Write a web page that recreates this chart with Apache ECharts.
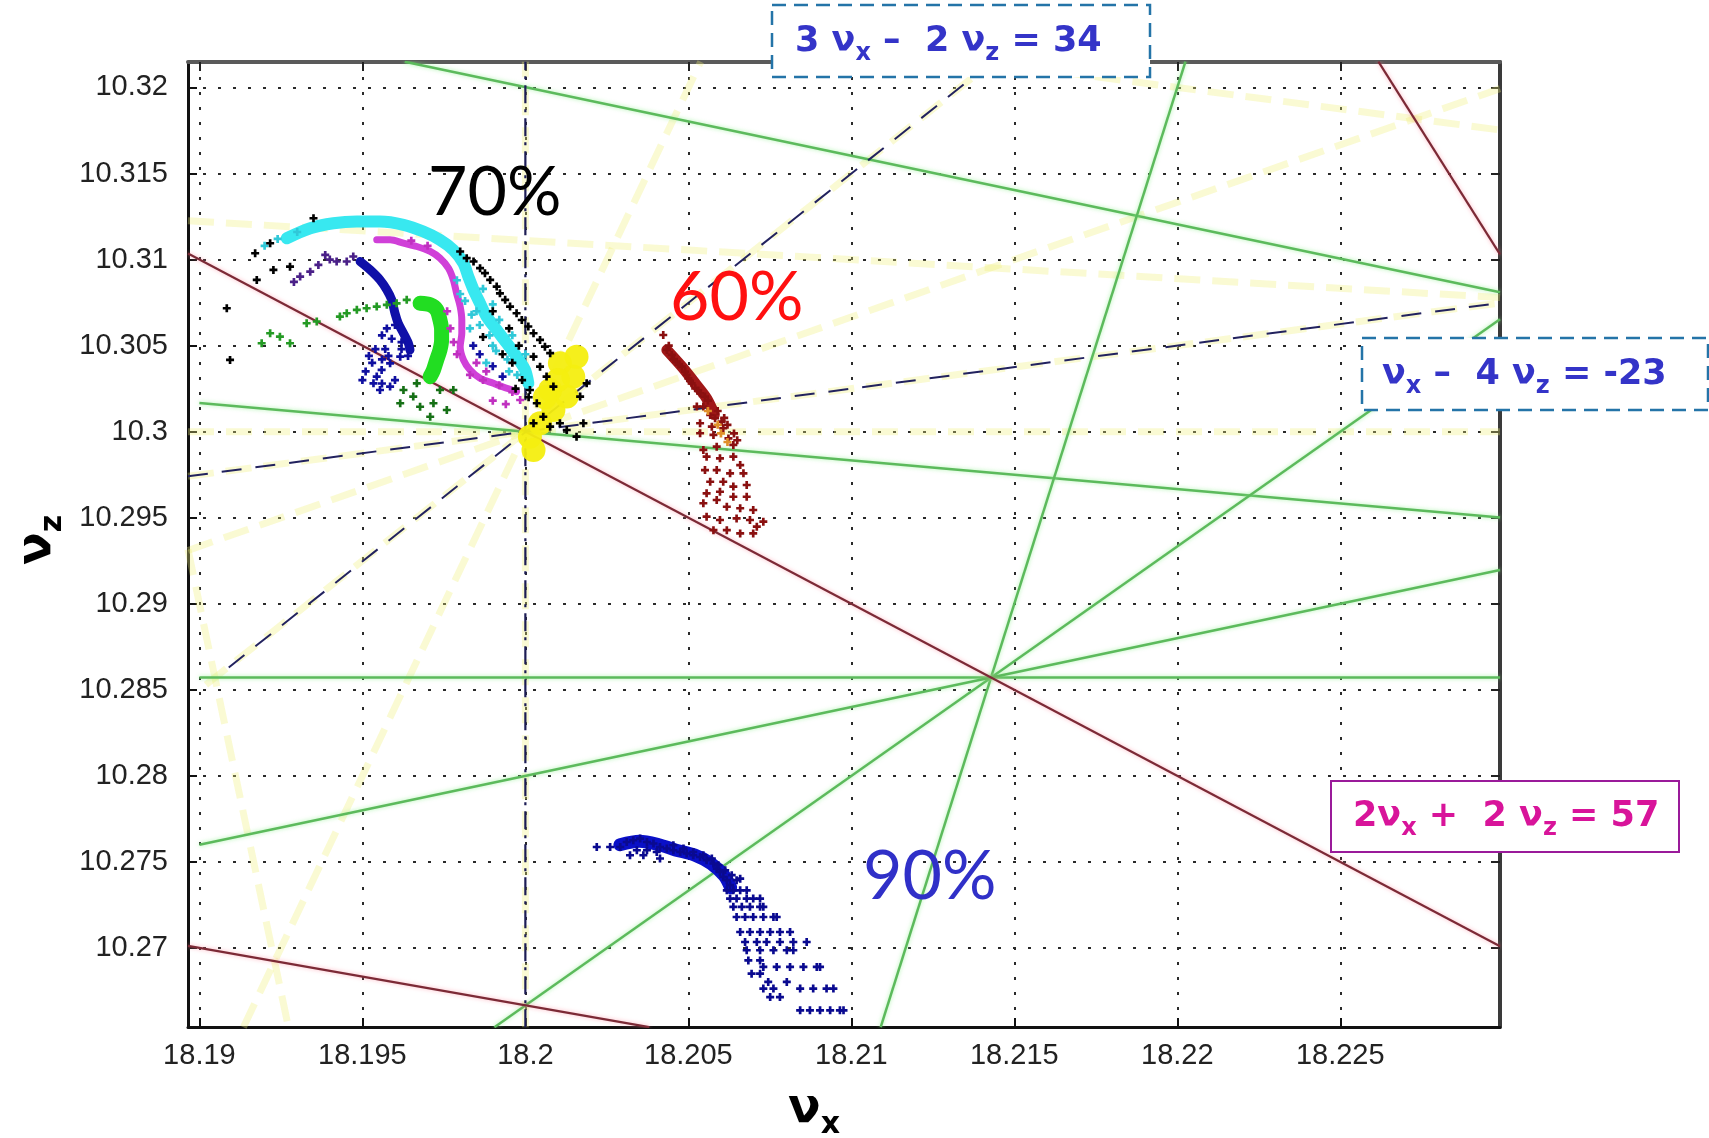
<!DOCTYPE html>
<html><head><meta charset="utf-8">
<script src="https://cdn.jsdelivr.net/npm/echarts@6/dist/echarts.min.js"></script>
<style>html,body{margin:0;padding:0;background:#fff}#c{width:1709px;height:1138px}</style>
</head><body><div id="c"></div>
<script>
// ---------- axes ----------
const xTicks = [18.19,18.195,18.2,18.205,18.21,18.215,18.22,18.225];
const zTicks = [10.27,10.275,10.28,10.285,10.29,10.295,10.3,10.305,10.31,10.315,10.32];
const xRange = [18.18965, 18.2299];
const zRange = [10.26541, 10.32148];

// ---------- resonance lines (end points in tune space) ----------
const greenLines = [
  [[18.1963,10.3215],[18.2299,10.3081]],   // 2vx+5vz=88
  [[18.19,10.30167],[18.2299,10.29502]],   // vx+6vz=80
  [[18.19,10.28571],[18.2299,10.28571]],   // 7vz=72
  [[18.22025,10.3215],[18.2109,10.2654]],  // 6vx-vz=99
  [[18.19905,10.2654],[18.2299,10.30653]], // 4vx-3vz=42
  [[18.19,10.276],[18.2299,10.29196]]      // 2vx-5vz=-15
];
const brownLines = [
  [[18.18965,10.31035],[18.2299,10.2701]], // 2vx+2vz=57
  [[18.18965,10.27012],[18.2038,10.2654]], // vx+3vz=49
  [[18.22617,10.3215],[18.2299,10.3103]]   // 3vx+vz=65
];
const navyLines = [
  [[18.1909,10.2863],[18.21433,10.3215]],  // 3vx-2vz=34
  [[18.18965,10.29741],[18.2299,10.30748]] // vx-4vz=-23
];
const navyVertical = [[18.2,10.2654],[18.2,10.3215]]; // 5vx=91
const yellowLines = [
  [[18.18965,10.3],[18.2299,10.3]],
  [[18.2,10.2654],[18.2,10.3215]],
  [[18.18965,10.29741],[18.2299,10.30748]],
  [[18.1902,10.2853],[18.21433,10.3215]],
  [[18.18965,10.2931],[18.2299,10.31993]],
  [[18.19135,10.2654],[18.20538,10.3215]],
  [[18.18965,10.29315],[18.19273,10.2654]],
  [[18.18965,10.31226],[18.2299,10.30779]],
  [[18.214,10.3215],[18.2299,10.31753]]
];

// ---------- tracked particles ----------
const p90Head = [[18.2029,10.2760],[18.2035,10.2762],[18.2041,10.2760],[18.2046,10.2757],[18.2052,10.2754],[18.2057,10.2749],[18.2061,10.2742],[18.2063,10.2735]];
const p90 = [[18.20219,10.27587],[18.20260,10.27587],[18.20291,10.27587],[18.20311,10.27616],[18.20331,10.27626],[18.20352,10.27636],[18.20373,10.27616],[18.20393,10.27607],[18.20413,10.27587],[18.20434,10.27578],[18.20321,10.27539],[18.20342,10.27568],[18.20373,10.27568],[18.20403,10.27558],[18.20413,10.27520],[18.20362,10.27539],
 [18.20454,10.27568],[18.20475,10.27558],[18.20495,10.27549],[18.20515,10.27539],[18.20536,10.27529],[18.20556,10.27510],[18.20577,10.27491],[18.20587,10.27461],[18.20597,10.27442],[18.20607,10.27413],[18.20618,10.27394],[18.20628,10.27365],[18.20454,10.27597],[18.20485,10.27578],[18.20515,10.27558],[18.20546,10.27539],[18.20572,10.27520],[18.20592,10.27481],[18.20613,10.27452],[18.20633,10.27423],[18.20648,10.27394],[18.20659,10.27403],
 [18.20618,10.27335],[18.20638,10.27335],[18.20659,10.27335],[18.20679,10.27335],
 [18.20628,10.27287],[18.20648,10.27287],[18.20679,10.27287],[18.20699,10.27287],[18.20720,10.27287],
 [18.20638,10.27239],[18.20664,10.27239],[18.20689,10.27239],[18.20720,10.27239],[18.20730,10.27239],
 [18.20648,10.27180],[18.20674,10.27180],[18.20699,10.27180],[18.20730,10.27180],[18.20761,10.27180],[18.20771,10.27180],
 [18.20659,10.27093],[18.20689,10.27093],[18.20720,10.27093],[18.20751,10.27093],[18.20781,10.27093],[18.20812,10.27093],
 [18.20674,10.27035],[18.20710,10.27035],[18.20740,10.27035],[18.20781,10.27035],[18.20822,10.27035],[18.20863,10.27035],
 [18.20679,10.26987],[18.20720,10.26987],[18.20761,10.26987],[18.20802,10.26987],[18.20822,10.26987],
 [18.20684,10.26928],[18.20720,10.26928],
 [18.20730,10.26890],[18.20771,10.26890],[18.20812,10.26890],[18.20853,10.26890],[18.20894,10.26890],[18.20904,10.26890],
 [18.20694,10.26851],[18.20720,10.26851],[18.20745,10.26803],[18.20802,10.26803],
 [18.20730,10.26764],[18.20761,10.26764],[18.20843,10.26764],[18.20883,10.26764],[18.20924,10.26764],[18.20945,10.26764],
 [18.20751,10.26715],[18.20781,10.26715],
 [18.20843,10.26638],[18.20873,10.26638],[18.20904,10.26638],[18.20935,10.26638],[18.20965,10.26638],[18.20976,10.26638]];

const p60Band = [[18.20434,10.30475],[18.20480,10.30378],[18.20521,10.30281],[18.20556,10.30194],[18.20580,10.30100]];
const p60 = [[18.20423,10.30562],[18.20434,10.30475],[18.20449,10.30446],[18.20464,10.30407],[18.20480,10.30378],[18.20490,10.30349],[18.20500,10.30310],[18.20510,10.30281],[18.20521,10.30252],[18.20536,10.30223],[18.20551,10.30204],[18.20526,10.30146],[18.20546,10.30146],[18.20567,10.30097],[18.20582,10.30078],[18.20602,10.30058],[18.20536,10.30049],[18.20572,10.30029],[18.20607,10.30020],[18.20536,10.29991],[18.20577,10.29981],[18.20623,10.29961],[18.20546,10.29894],[18.20587,10.29913],[18.20638,10.29923],[18.20556,10.29855],[18.20597,10.29845],[18.20638,10.29855],[18.20659,10.29806],[18.20551,10.29777],[18.20587,10.29777],[18.20628,10.29758],[18.20669,10.29758],[18.20567,10.29709],[18.20607,10.29709],[18.20638,10.29681],[18.20679,10.29690],[18.20556,10.29642],[18.20597,10.29651],[18.20638,10.29622],[18.20679,10.29622],[18.20546,10.29584],[18.20587,10.29603],[18.20618,10.29564],[18.20659,10.29555],[18.20699,10.29545],[18.20556,10.29506],[18.20597,10.29487],[18.20648,10.29496],[18.20689,10.29487],[18.20730,10.29477],[18.20577,10.29428],[18.20618,10.29428],[18.20659,10.29409],[18.20699,10.29409],[18.20710,10.29448],
 [18.20440,10.30500],[18.20455,10.30420],[18.20470,10.30390],[18.20495,10.30330],[18.20505,10.30295],[18.20530,10.30240],[18.20560,10.30180],[18.20590,10.30120],[18.20610,10.30080],[18.20620,10.30040],[18.20640,10.29990],[18.20650,10.29950]];
const p60Orange = [[18.20560,10.30120],[18.20590,10.30040],[18.20600,10.29990],[18.20620,10.29940]];

const p70CyanBand = [[18.19268,10.31124],[18.19340,10.31182],[18.19411,10.31211],[18.19483,10.31221],[18.19554,10.31221],[18.19626,10.31202],[18.19687,10.31163],[18.19738,10.31115],[18.19779,10.31056],[18.19810,10.30979],[18.19825,10.30901],[18.19841,10.30824],[18.19861,10.30746],[18.19881,10.30669],[18.19912,10.30591],[18.19943,10.30514],[18.19973,10.30436],[18.19999,10.30359],[18.20009,10.30281]];
const p70Cyan = [[18.19200,10.31080],[18.19240,10.31120],[18.19300,10.31160],[18.19850,10.30700],[18.19800,10.30800],[18.19900,10.30500],[18.19950,10.30350],[18.19880,10.30400],[18.19830,10.30600],[18.19920,10.30650],[18.19960,10.30560],[18.20000,10.30450],
 [18.19790,10.30880],[18.19815,10.30760],[18.19835,10.30680],[18.19860,10.30620],[18.19890,10.30560],[18.19910,10.30470],[18.19945,10.30420],[18.19975,10.30330],[18.19870,10.30830],[18.19900,10.30740]];
const p70Black = [[18.19800,10.31047],[18.19820,10.31008],[18.19841,10.30989],[18.19861,10.30950],[18.19876,10.30921],[18.19892,10.30882],[18.19912,10.30843],[18.19922,10.30804],[18.19938,10.30766],[18.19953,10.30727],[18.19973,10.30688],[18.19989,10.30649],[18.20009,10.30611],[18.20025,10.30572],[18.20045,10.30533],[18.20060,10.30494],[18.20076,10.30456],[18.20025,10.30436],[18.20045,10.30378],[18.20065,10.30320],[18.20086,10.30262],[18.20014,10.30242],[18.20035,10.30165],[18.20055,10.30087],[18.20025,10.30049],[18.20076,10.30029],[18.20106,10.30049],[18.20127,10.30010],[18.20157,10.29971],[18.20178,10.30049],[18.20168,10.30204],[18.20188,10.30281],
 [18.19350,10.31240],[18.19176,10.30882],[18.19227,10.30940],[18.19171,10.31037],[18.19084,10.30717],[18.19094,10.30417],[18.19278,10.30959],[18.19217,10.31095],
 [18.19900,10.30700],[18.19950,10.30600],[18.19980,10.30500],[18.19870,10.30550],[18.19930,10.30450],[18.19960,10.30400],[18.19990,10.30300],[18.20010,10.30200],[18.19970,10.30250]];
const p70MagentaBand = [[18.19544,10.31115],[18.19585,10.31115],[18.19626,10.31095],[18.19667,10.31076],[18.19708,10.31047],[18.19738,10.31008],[18.19764,10.30950],[18.19779,10.30882],[18.19789,10.30804],[18.19800,10.30727],[18.19805,10.30649],[18.19805,10.30572],[18.19800,10.30494],[18.19810,10.30417],[18.19830,10.30359],[18.19861,10.30310],[18.19902,10.30281],[18.19943,10.30252],[18.19973,10.30233]];
const p70Magenta = [[18.19830,10.30330],[18.19870,10.30300],[18.19920,10.30270],[18.19960,10.30230],[18.19984,10.30184],[18.19900,10.30180],[18.19940,10.30160],
 [18.19760,10.30700],[18.19770,10.30600],[18.19780,10.30520],[18.19790,10.30450],[18.19850,10.30400],[18.19880,10.30350],[18.19700,10.31080],[18.19650,10.31110]];
const p70Purple = [[18.19309,10.30901],[18.19340,10.30930],[18.19365,10.30969],[18.19386,10.31027],[18.19421,10.30989],[18.19452,10.30989],[18.19472,10.31018],[18.19290,10.30870],[18.19400,10.31000]];
const p70NavyBand = [[18.19493,10.30989],[18.19524,10.30940],[18.19554,10.30882],[18.19575,10.30824],[18.19590,10.30766],[18.19600,10.30688],[18.19610,10.30630],[18.19626,10.30572],[18.19641,10.30514],[18.19646,10.30475]];
const p70Navy = [[18.19616,10.30436],[18.19585,10.30397],[18.19559,10.30359],[18.19544,10.30320],[18.19534,10.30281],[18.19554,10.30242],[18.19585,10.30262],[18.19575,10.30600],[18.19560,10.30560],[18.19590,10.30540],[18.19620,10.30520],[18.19530,10.30400],[18.19600,10.30300],[18.19620,10.30480],[18.19570,10.30480],[18.19600,10.30620],
 [18.19840,10.30500],[18.19860,10.30450],[18.19900,10.30380],[18.19930,10.30320],
 [18.19510,10.30350],[18.19520,10.30440],[18.19540,10.30480],[18.19560,10.30420],[18.19580,10.30440],[18.19640,10.30440],[18.19500,10.30300],[18.19560,10.30280]];
const p70GreenBand = [[18.19677,10.30746],[18.19708,10.30737],[18.19728,10.30708],[18.19738,10.30649],[18.19743,10.30591],[18.19743,10.30533],[18.19738,10.30475],[18.19728,10.30417],[18.19718,10.30359],[18.19708,10.30320]];
const p70Green = [[18.19636,10.30766],[18.19605,10.30746],[18.19575,10.30737],[18.19544,10.30727],[18.19513,10.30717],[18.19483,10.30708],[18.19452,10.30688],[18.19431,10.30669],[18.19360,10.30640],[18.19329,10.30630],[18.19247,10.30552],[18.19217,10.30572],[18.19191,10.30514],[18.19278,10.30514]];
const p70DarkGreen = [[18.19626,10.30242],[18.19656,10.30204],[18.19677,10.30145],[18.19718,10.30165],[18.19738,10.30242],[18.19759,10.30126],[18.19708,10.30087],[18.19667,10.30281],[18.19616,10.30165],[18.19779,10.30242]];
const p70Yellow = [[18.20106,10.30397],[18.20147,10.30320],[18.20127,10.30204],[18.20086,10.30126],[18.20045,10.30049],[18.20014,10.29971],[18.20025,10.29893],[18.20157,10.30436],[18.20076,10.30242],[18.20100,10.30300],[18.20060,10.30200]];

// ---------- chart ----------
const PLUS = 'path://M2,0h2v2h2v2h-2v2h-2v-2h-2v-2h2z';
const chart = echarts.init(document.getElementById('c'), null, {renderer:'canvas'});
const fmt = v => String(parseFloat(Number(v).toFixed(4)));

function seg(data, style, z, extra){ return Object.assign({type:'line', data, symbol:'none', silent:true, animation:false, clip:true, z, lineStyle:style}, extra||{}); }
function scat(data, color, size, sym, z, opacity){ return {type:'scatter', data, symbol: sym||PLUS, symbolSize: size||8, itemStyle:{color, opacity: opacity==null?1:opacity}, z: z||5, silent:true, animation:false}; }
function band(data, color, width, z){ return seg(data, {color, width, cap:'round', join:'round'}, z, {smooth:0.3}); }

const series = [];
yellowLines.forEach(s => series.push(seg(s, {color:'rgba(240,240,120,0.33)', width:7, type:[26,12]}, 1)));
greenLines.forEach(s => series.push(seg(s, {color:'#5cba5c', width:2.5, shadowColor:'rgba(140,240,140,0.7)', shadowBlur:4}, 2)));
brownLines.forEach(s => series.push(seg(s, {color:'#7c2a36', width:2.2, shadowColor:'rgba(255,130,150,0.6)', shadowBlur:4}, 2)));
navyLines.forEach(s => series.push(seg(s, {color:'#22225e', width:2, type:[20,14]}, 3)));
series.push(seg(navyVertical, {color:'#1d1d55', width:2.2, type:[18,6,3,6]}, 3));

series.push(band(p90Head, '#0a10c8', 13, 4));
series.push(scat(p90, '#0a0a90', 8));
series.push(band(p60Band, '#a01818', 11, 4));
series.push(scat(p60, '#8a1010', 8));
series.push(scat(p60Orange, '#e0902a', 8));
series.push(band(p70CyanBand, '#38e8f0', 12, 4));
series.push(scat(p70Cyan, '#30c8d8', 8));
series.push(band(p70MagentaBand, '#d040d8', 7, 4));
series.push(scat(p70Magenta, '#c030c0', 8));
series.push(scat(p70Purple, '#4a2088', 8));
series.push(band(p70NavyBand, '#1010a8', 9, 4));
series.push(scat(p70Navy, '#1010a0', 8));
series.push(band(p70GreenBand, '#22dd22', 15, 4));
series.push(scat(p70Green, '#249a24', 8));
series.push(scat(p70DarkGreen, '#167016', 8));
series.push(scat(p70Yellow, '#f4ee10', 24, 'circle', 4, 0.95));
series.push(scat(p70Black, '#000000', 8, PLUS, 6));

const gridLine = {show:true, lineStyle:{color:'#2a2a2a', width:2, type:[3,12]}};
const labelStyle = {color:'#222', fontSize:29, fontFamily:'Liberation Sans, Arial, sans-serif'};
const xBase = {type:'value', min:xRange[0], max:xRange[1]};
const zBase = {type:'value', min:zRange[0], max:zRange[1]};

const boxA = {font:'bold 35px "DejaVu Sans", sans-serif', height:42, verticalAlign:'top'};
const boxS = {font:'bold 24px "DejaVu Sans", sans-serif', height:24, padding:[21,0,0,0], verticalAlign:'top'};
function rich(color){ return {a:Object.assign({fill:color}, boxA), s:Object.assign({fill:color}, boxS)}; }

chart.setOption({
  animation:false,
  backgroundColor:'#ffffff',
  grid:{left:188, right:209, top:62, bottom:111, containLabel:false},
  xAxis:[
    Object.assign({}, xBase, {position:'bottom',
      axisLine:{show:true, onZero:false, lineStyle:{color:'#111', width:3}},
      axisTick:{show:true, inside:true, length:9, lineStyle:{color:'#111', width:2}, customValues:xTicks},
      axisLabel:Object.assign({show:true, margin:14, customValues:xTicks, formatter:fmt}, labelStyle),
      splitLine:gridLine}),
    Object.assign({}, xBase, {position:'top',
      axisLine:{show:true, onZero:false, lineStyle:{color:'#5a5a5a', width:4}},
      axisTick:{show:true, inside:true, length:9, lineStyle:{color:'#222', width:2}, customValues:xTicks},
      axisLabel:{show:false}, splitLine:{show:false}})
  ],
  yAxis:[
    Object.assign({}, zBase, {position:'left',
      axisLine:{show:true, onZero:false, lineStyle:{color:'#111', width:3}},
      axisTick:{show:true, inside:true, length:9, lineStyle:{color:'#111', width:2}, customValues:zTicks},
      axisLabel:Object.assign({show:true, margin:20, customValues:zTicks, formatter:fmt}, labelStyle),
      splitLine:gridLine}),
    Object.assign({}, zBase, {position:'right',
      axisLine:{show:true, onZero:false, lineStyle:{color:'#3a3a3a', width:4}},
      axisTick:{show:true, inside:true, length:9, lineStyle:{color:'#222', width:2}, customValues:zTicks},
      axisLabel:{show:false}, splitLine:{show:false}})
  ],
  series: series,
  graphic:[
    {type:'text', z:50, left:428, top:159, style:{text:'70%', fill:'#000', font:'68px Lato, "Noto Sans", sans-serif'}},
    {type:'text', z:50, left:670, top:264, style:{text:'60%', fill:'#ff1010', font:'68px Lato, "Noto Sans", sans-serif'}},
    {type:'text', z:50, left:863, top:843, style:{text:'90%', fill:'#3030c8', font:'68px Lato, "Noto Sans", sans-serif'}},
    {type:'rect', z:60, shape:{x:772, y:5, width:378, height:72}, style:{fill:'#fff', stroke:'#2474a8', lineWidth:2.5, lineDash:[14,8]}},
    {type:'text', z:61, left:795, top:24, style:{text:'{a|3 ν}{s|x}{a| –  2 ν}{s|z}{a| = 34}', rich:rich('#3434c8')}},
    {type:'rect', z:60, shape:{x:1362, y:338, width:346, height:72}, style:{fill:'#fff', stroke:'#2474a8', lineWidth:2.5, lineDash:[14,8]}},
    {type:'text', z:61, left:1382, top:357, style:{text:'{a|ν}{s|x}{a| –  4 ν}{s|z}{a| = -23}', rich:rich('#3434c8')}},
    {type:'rect', z:60, shape:{x:1331, y:781, width:348, height:71}, style:{fill:'#fff', stroke:'#9a1a9a', lineWidth:2}},
    {type:'text', z:61, left:1353, top:799, style:{text:'{a|2ν}{s|x}{a| +  2 ν}{s|z}{a| = 57}', rich:rich('#d8149a')}},
    {type:'text', z:61, left:788, top:1086, style:{text:'{a|ν}{s|x}', rich:{
      a:{font:'bold 48px "DejaVu Sans", sans-serif', fill:'#000', height:52, verticalAlign:'top'},
      s:{font:'bold 30px "DejaVu Sans", sans-serif', fill:'#000', height:30, padding:[26,0,0,0], verticalAlign:'top'}}}},
    {type:'text', z:61, x:12, y:565, rotation:Math.PI/2, style:{text:'{a|ν}{s|z}', rich:{
      a:{font:'bold 48px "DejaVu Sans", sans-serif', fill:'#000', height:52, verticalAlign:'top'},
      s:{font:'bold 30px "DejaVu Sans", sans-serif', fill:'#000', height:30, padding:[26,0,0,0], verticalAlign:'top'}}}}
  ]
});
</script></body></html>
